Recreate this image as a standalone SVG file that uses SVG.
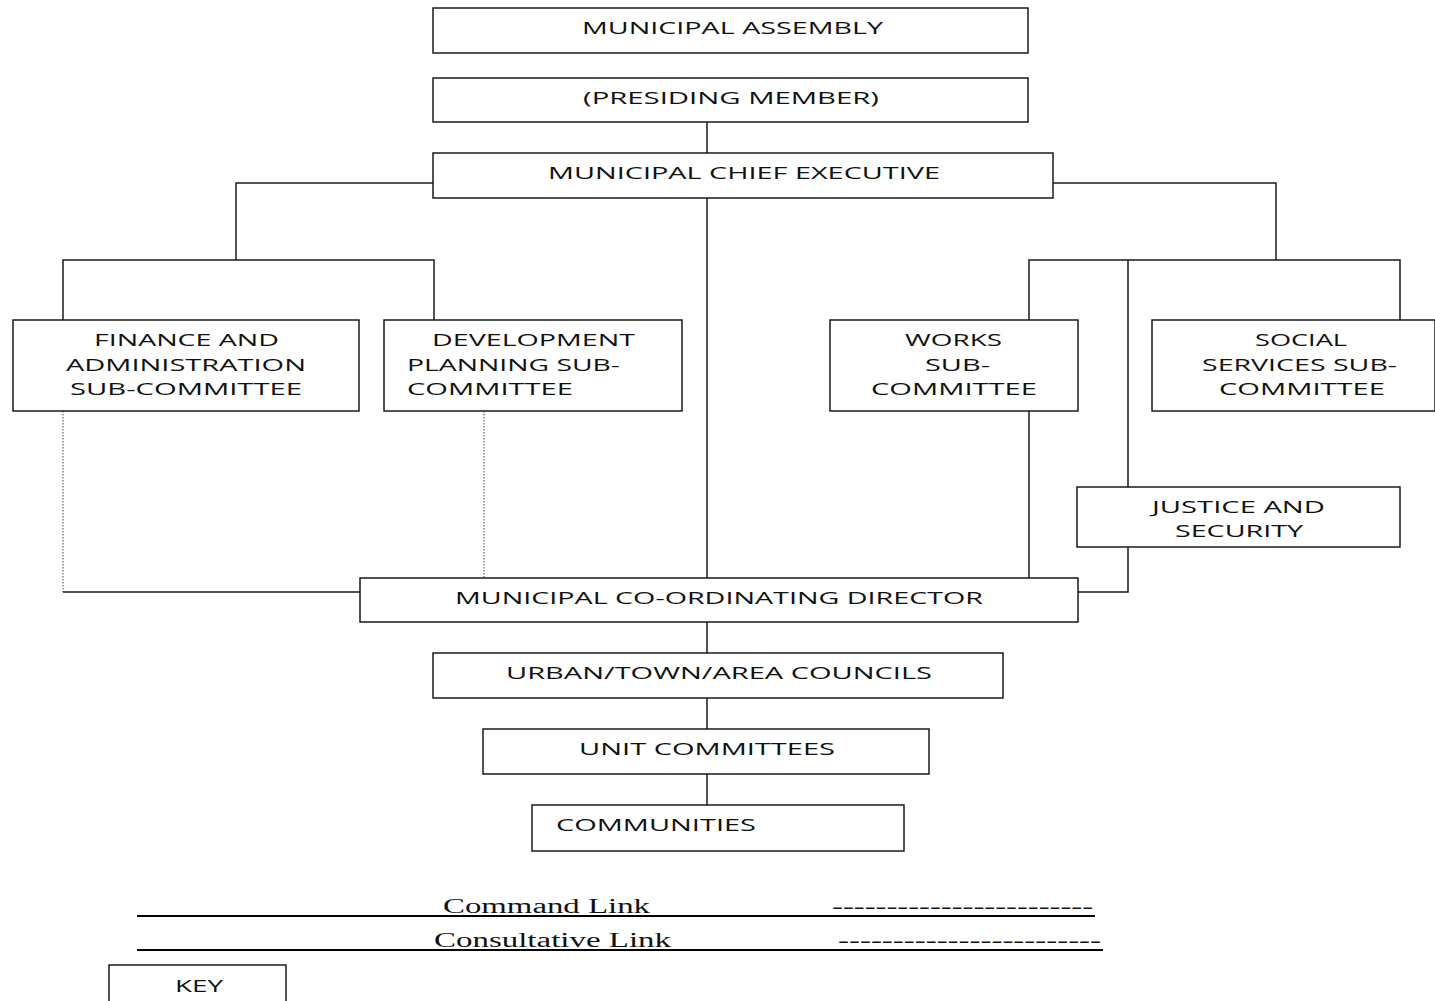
<svg xmlns="http://www.w3.org/2000/svg" width="1435" height="1001" viewBox="0 0 1435 1001">
<style>
.box{fill:#fff;stroke:#1a1a1a;stroke-width:1.5}
.t{font-family:"Open Sans","DejaVu Sans",sans-serif;font-size:17px;fill:#111}
.s{font-family:"Liberation Serif","Times New Roman",serif;font-size:20px;fill:#111}
.c{fill:none;stroke:#1a1a1a;stroke-width:1.5}
.d{fill:none;stroke:#444;stroke-width:1;stroke-dasharray:1.5 1.5}
.k{fill:none;stroke:#000;stroke-width:2.2}
</style>
<rect width="1435" height="1001" fill="#fff"/>
<g id="connectors">
<path class="c" d="M707 122V153"/>
<path class="c" d="M433 183H236V260M63 320V260H434V320"/>
<path class="c" d="M707 198V578"/>
<path class="c" d="M1053 183H1276V260M1029 320V260H1400V320M1128 260V487"/>
<path class="c" d="M1029 411V578"/>
<path class="c" d="M1128 547V592H1078"/>
<path class="d" d="M63 411V592"/>
<path class="c" d="M63 592H360"/>
<path class="d" d="M484 411V590"/>
<path class="c" d="M707 622V653M707 698V729M707 774V805"/>
</g>
<g id="n-assembly"><rect class="box" x="433" y="8" width="595" height="45"/><text class="t" x="582" y="34" textLength="301" lengthAdjust="spacingAndGlyphs">MUNICIPAL ASSEMBLY</text></g>
<g id="n-presiding"><rect class="box" x="433" y="78" width="595" height="44"/><text class="t" x="583" y="104" textLength="296" lengthAdjust="spacingAndGlyphs">(PRESIDING MEMBER)</text></g>
<g id="n-mce"><rect class="box" x="433" y="153" width="620" height="45"/><text class="t" x="548" y="179" textLength="392" lengthAdjust="spacingAndGlyphs">MUNICIPAL CHIEF EXECUTIVE</text></g>
<g id="n-finance"><rect class="box" x="13" y="320" width="346" height="91"/>
<text class="t" x="94" y="346" textLength="185" lengthAdjust="spacingAndGlyphs">FINANCE AND</text>
<text class="t" x="66" y="371" textLength="240" lengthAdjust="spacingAndGlyphs">ADMINISTRATION</text>
<text class="t" x="70" y="395" textLength="232" lengthAdjust="spacingAndGlyphs">SUB-COMMITTEE</text></g>
<g id="n-devplan"><rect class="box" x="384" y="320" width="298" height="91"/>
<text class="t" x="432" y="346" textLength="203" lengthAdjust="spacingAndGlyphs">DEVELOPMENT</text>
<text class="t" x="407" y="371" textLength="213" lengthAdjust="spacingAndGlyphs">PLANNING SUB-</text>
<text class="t" x="407" y="395" textLength="166" lengthAdjust="spacingAndGlyphs">COMMITTEE</text></g>
<g id="n-works"><rect class="box" x="830" y="320" width="248" height="91"/>
<text class="t" x="905" y="346" textLength="97" lengthAdjust="spacingAndGlyphs">WORKS</text>
<text class="t" x="925" y="371" textLength="65" lengthAdjust="spacingAndGlyphs">SUB-</text>
<text class="t" x="871" y="395" textLength="166" lengthAdjust="spacingAndGlyphs">COMMITTEE</text></g>
<g id="n-social"><rect class="box" x="1152" y="320" width="283" height="91"/>
<text class="t" x="1255" y="346" textLength="92" lengthAdjust="spacingAndGlyphs">SOCIAL</text>
<text class="t" x="1202" y="371" textLength="195" lengthAdjust="spacingAndGlyphs">SERVICES SUB-</text>
<text class="t" x="1219" y="395" textLength="166" lengthAdjust="spacingAndGlyphs">COMMITTEE</text></g>
<g id="n-justice"><rect class="box" x="1077" y="487" width="323" height="60"/>
<text class="t" x="1152" y="513" textLength="173" lengthAdjust="spacingAndGlyphs">JUSTICE AND</text>
<text class="t" x="1175" y="537" textLength="128" lengthAdjust="spacingAndGlyphs">SECURITY</text></g>
<g id="n-mcd"><rect class="box" x="360" y="578" width="718" height="44"/><text class="t" x="455" y="604" textLength="528" lengthAdjust="spacingAndGlyphs">MUNICIPAL CO-ORDINATING DIRECTOR</text></g>
<g id="n-urban"><rect class="box" x="433" y="653" width="570" height="45"/><text class="t" x="506" y="679" textLength="426" lengthAdjust="spacingAndGlyphs">URBAN/TOWN/AREA COUNCILS</text></g>
<g id="n-unit"><rect class="box" x="483" y="729" width="446" height="45"/><text class="t" x="579" y="755" textLength="256" lengthAdjust="spacingAndGlyphs">UNIT COMMITTEES</text></g>
<g id="n-communities"><rect class="box" x="532" y="805" width="372" height="46"/><text class="t" x="556" y="831" textLength="200" lengthAdjust="spacingAndGlyphs">COMMUNITIES</text></g>
<g id="legend">
<text class="s" x="443" y="913" textLength="207" lengthAdjust="spacingAndGlyphs">Command Link</text>
<text class="s" x="832" y="913" textLength="261" lengthAdjust="spacingAndGlyphs">------------------------</text>
<path class="k" d="M137 916H1095"/>
<text class="s" x="434" y="947" textLength="237" lengthAdjust="spacingAndGlyphs">Consultative Link</text>
<text class="s" x="838" y="947" textLength="263" lengthAdjust="spacingAndGlyphs">------------------------</text>
<path class="k" d="M137 950H1103"/>
</g>
<g id="n-key"><rect class="box" x="109" y="965" width="177" height="45"/><text class="t" x="175" y="992" textLength="48" lengthAdjust="spacingAndGlyphs">KEY</text></g>
</svg>
